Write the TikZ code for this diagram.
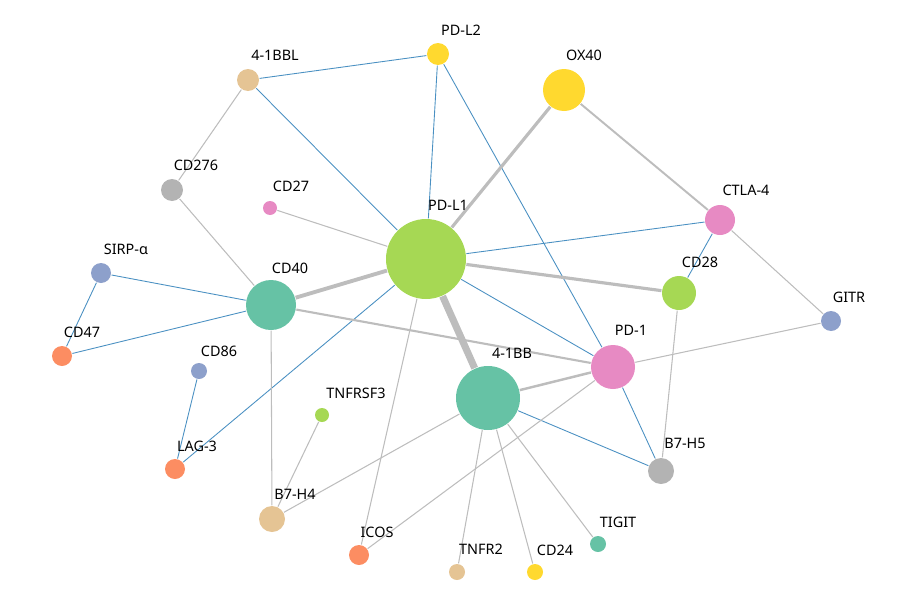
\documentclass[tikz,border=0pt]{standalone}
\usepackage{fontspec}
\setmainfont{Noto Sans}
\usetikzlibrary{backgrounds}
\definecolor{cteal}{HTML}{66C2A5}
\definecolor{corange}{HTML}{FC8D62}
\definecolor{cblue}{HTML}{8DA0CB}
\definecolor{cpink}{HTML}{E78AC3}
\definecolor{cgreen}{HTML}{A6D854}
\definecolor{cyellow}{HTML}{FFD92F}
\definecolor{ctan}{HTML}{E5C494}
\definecolor{cgray}{HTML}{B3B3B3}
\definecolor{linkblue}{HTML}{4A90C2}
\definecolor{linkgray}{HTML}{BDBDBD}
\begin{document}
\begin{tikzpicture}[
				x = 0.01cm, y = -0.01cm, % pixel grid
				vertex/.style = {circle, inner sep=0pt, draw=none},
				tag/.style = {font=\fontsize{4.1}{5}\selectfont, inner sep=0pt},
				bl/.style = {draw=linkblue, line width=0.25pt},
				gr/.style = {draw=linkgray, line width=0.3pt}
				]
				\useasboundingbox (0,0) rectangle (900,600);
				
				% vertices: name/x/y/radius/colour/text/text x/text y
				\foreach \n/\x/\y/\r/\c/\t/\tx/\ty in {
					pdltwo/438/54/11/cyellow/PD-L2/461/30,
					oxforty/564/90/21/cyellow/OX40/584/55,
					bbl/248/80/11/ctan/4-1BBL/275/55,
					cdtwoseventysix/172/190/11/cgray/CD276/196/165,
					cdtwentyseven/270/208/7/cpink/CD27/291/186,
					pdl/426/259/40/cgreen/PD-L1/448/205,
					ctla/720/220/15/cpink/CTLA-4/746/190,
					cdtwentyeight/679/293/17/cgreen/CD28/700/262,
					gitr/831/321/10/cblue/GITR/849/297,
					sirp/101/273/10/cblue/SIRP-α/126/249,
					cdforty/271/305/25/cteal/CD40/290/268,
					cdfortyseven/62/356/10/corange/CD47/82/332,
					pdone/613/367/22/cpink/PD-1/631/330,
					cdeightysix/199/371/8/cblue/CD86/219/351,
					bb/488/398/32/cteal/4-1BB/512/353,
					tnfrsf/322/415/7/cgreen/TNFRSF3/356/393,
					lag/175/469/10/corange/LAG-3/197/446,
					bhfive/661/471/13/cgray/B7-H5/685/443,
					bhfour/272/519/13/ctan/B7-H4/295/494,
					icos/359/555/10/corange/ICOS/377/532,
					tigit/598/544/8/cteal/TIGIT/618/522,
					tnfr/457/572/8/ctan/TNFR2/481/549,
					cdtwentyfour/535/572/8/cyellow/CD24/555/550} {
					\node[vertex, fill=\c, minimum size=2*\r*0.01cm] (\n) at (\x,\y) {};
					\node[tag] (\n-tag) at (\tx,\ty) {\t};
				}
				
				\begin{scope}[on background layer]
					\path[bl] (pdltwo) -- (bbl);
					\path[bl] (bbl) -- (pdl);
					\path[bl] (pdltwo) -- (pdl);
					\path[bl] (pdltwo) -- (pdone);
					\path[bl] (pdl) -- (ctla);
					\path[bl] (ctla) -- (cdtwentyeight);
					\path[bl] (pdl) -- (pdone);
					\path[bl] (sirp) -- (cdforty);
					\path[bl] (sirp) -- (cdfortyseven);
					\path[bl] (cdfortyseven) -- (cdforty);
					\path[bl] (cdeightysix) -- (lag);
					\path[bl] (lag) -- (pdl);
					\path[bl] (bb) -- (bhfive);
					\path[bl] (pdone) -- (bhfive);
					
					\path[gr] (bbl) -- (cdtwoseventysix);
					\path[gr] (cdtwoseventysix) -- (cdforty);
					\path[gr] (cdtwentyseven) -- (pdl);
					\path[gr, line width=0.9pt] (pdl) -- (oxforty);
					\path[gr, line width=0.55pt] (oxforty) -- (ctla);
					\path[gr] (ctla) -- (gitr);
					\path[gr, line width=0.9pt] (pdl) -- (cdtwentyeight);
					\path[gr, line width=1.1pt] (pdl) -- (cdforty);
					\path[gr, line width=2pt] (pdl) -- (bb);
					\path[gr, line width=0.6pt] (cdforty) -- (pdone);
					\path[gr, line width=0.7pt] (pdone) -- (bb);
					\path[gr] (pdone) -- (gitr);
					\path[gr] (pdone) -- (icos);
					\path[gr] (cdtwentyeight) -- (bhfive);
					\path[gr] (cdforty) -- (bhfour);
					\path[gr] (tnfrsf) -- (bhfour);
					\path[gr] (bb) -- (bhfour);
					\path[gr] (pdl) -- (icos);
					\path[gr] (bb) -- (tnfr);
					\path[gr] (bb) -- (cdtwentyfour);
					\path[gr] (bb) -- (tigit);
				\end{scope}
				
			\end{tikzpicture}
\end{document}
